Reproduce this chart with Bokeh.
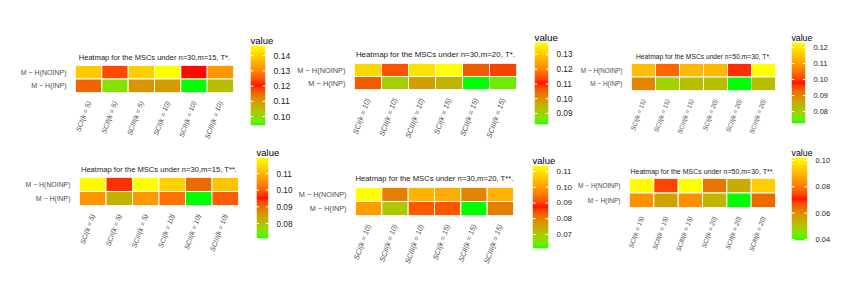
import math
import numpy as np
from bokeh.plotting import figure
from bokeh.models import (FactorRange, Range1d, LinearColorMapper,
                          FixedTicker, NumeralTickFormatter, ColumnDataSource)
from bokeh.transform import linear_cmap
from bokeh.layouts import row, column
from bokeh.embed import file_html
from bokeh.resources import INLINE

# ---------------- data ----------------
rows_y = ["M − H(INP)", "M − H(NOINP)"]

x_k5_10 = ["SCI(k = 5)", "SCII(k = 5)", "SCIII(k = 5)",
           "SCI(k = 10)", "SCII(k = 10)", "SCIII(k = 10)"]
x_k10_15 = ["SCI(k = 10)", "SCII(k = 10)", "SCIII(k = 10)",
            "SCI(k = 15)", "SCII(k = 15)", "SCIII(k = 15)"]
x_k15_20 = ["SCI(k = 15)", "SCII(k = 15)", "SCIII(k = 15)",
            "SCI(k = 20)", "SCII(k = 20)", "SCIII(k = 20)"]

titles = ["Heatmap for the MSCs under n=30,m=15, T*.",
          "Heatmap for the MSCs under n=30,m=20, T*.",
          "Heatmap for the MSCs under n=50,m=30, T*.",
          "Heatmap for the MSCs under n=30,m=15, T**.",
          "Heatmap for the MSCs under n=30,m=20, T**.",
          "Heatmap for the MSCs under n=50,m=30, T**."]

p1_noinp = [0.139, 0.1235, 0.1395, 0.1466, 0.1203, 0.132]
p1_inp = [0.1155, 0.099, 0.1105, 0.1095, 0.0941, 0.1045]
p2_noinp = [0.132, 0.1145, 0.1335, 0.1381, 0.106, 0.108]
p2_inp = [0.106, 0.091, 0.098, 0.0955, 0.0825, 0.0860]
p3_noinp = [0.114, 0.1034, 0.1135, 0.1135, 0.099, 0.1231]
p3_inp = [0.090, 0.080, 0.0826, 0.0826, 0.0725, 0.0826]
p4_noinp = [0.119, 0.0968, 0.1196, 0.1135, 0.0904, 0.1118]
p4_inp = [0.1062, 0.0824, 0.1065, 0.1021, 0.071, 0.0997]
p5_noinp = [0.1138, 0.080, 0.1033, 0.102, 0.0796, 0.103]
p5_inp = [0.100, 0.070, 0.092, 0.0917, 0.0611, 0.080]
p6_noinp = [0.1015, 0.074, 0.1023, 0.063, 0.055, 0.0935]
p6_inp = [0.084, 0.0566, 0.084, 0.0534, 0.0392, 0.0645]

ticks1 = [0.10, 0.11, 0.12, 0.13, 0.14]
ticks2 = [0.09, 0.10, 0.11, 0.12, 0.13]
ticks3 = [0.08, 0.09, 0.10, 0.11, 0.12]
ticks4 = [0.08, 0.09, 0.10, 0.11]
ticks5 = [0.07, 0.08, 0.09, 0.10, 0.11]
ticks6 = [0.04, 0.06, 0.08, 0.10]

# ---------------- palette: green -> red -> yellow, Lab interpolation ----------------
def _to_lin(c):
    c = c / 255.0
    return np.where(c <= 0.04045, c / 12.92, ((c + 0.055) / 1.055) ** 2.4)

def _from_lin(c):
    c = np.where(c <= 0.0031308, 12.92 * c, 1.055 * np.power(np.clip(c, 0, None), 1 / 2.4) - 0.055)
    return np.clip(np.round(c * 255), 0, 255)

M = np.array([[0.4124, 0.3576, 0.1805], [0.2126, 0.7152, 0.0722], [0.0193, 0.1192, 0.9505]])
Minv = np.linalg.inv(M)
WHITE = np.array([0.95047, 1.0, 1.08883])

def rgb2lab(rgb):
    xyz = M @ _to_lin(np.array(rgb, float)) / WHITE
    f = np.where(xyz > 0.008856, np.cbrt(xyz), 7.787 * xyz + 16 / 116)
    return np.array([116 * f[1] - 16, 500 * (f[0] - f[1]), 200 * (f[1] - f[2])])

def lab2rgb(lab):
    fy = (lab[0] + 16) / 116
    fx = fy + lab[1] / 500
    fz = fy - lab[2] / 200
    f = np.array([fx, fy, fz])
    xyz = np.where(f ** 3 > 0.008856, f ** 3, (f - 16 / 116) / 7.787) * WHITE
    return _from_lin(Minv @ xyz)

stops = [rgb2lab((0, 255, 0)), rgb2lab((255, 0, 0)), rgb2lab((255, 255, 0))]
PALETTE = []
N = 256
for i in range(N):
    t = i / (N - 1) * 2
    k = min(int(t), 1)
    f = t - k
    lab = stops[k] * (1 - f) + stops[k + 1] * f
    r, g, b = lab2rgb(lab)
    PALETTE.append("#%02x%02x%02x" % (int(r), int(g), int(b)))

FONT = "Liberation Sans"

def heatmap(title, xlabels, noinp, inp, lo, hi, fw, fh, bl, br, bt, bb,
            title_size, label_size, title_standoff):
    p = figure(x_range=FactorRange(factors=xlabels), y_range=FactorRange(factors=rows_y),
               width=bl + fw + br, height=bt + fh + bb,
               min_border_left=bl, min_border_right=br, min_border_top=bt, min_border_bottom=bb,
               title=title, toolbar_location=None, tools="", output_backend="svg")
    src = ColumnDataSource(dict(x=list(xlabels) * 2,
                                y=[rows_y[1]] * len(xlabels) + [rows_y[0]] * len(xlabels),
                                v=list(noinp) + list(inp)))
    p.rect("x", "y", 1, 1, source=src, fill_color=linear_cmap("v", PALETTE, lo, hi),
           line_color="white", line_width=1)
    p.title.text_font = FONT
    p.title.text_font_size = "%.1fpx" % title_size
    p.title.text_font_style = "normal"
    p.title.text_color = "#1a1a1a"
    p.title.align = "center"
    p.title.standoff = title_standoff
    p.grid.visible = False
    p.outline_line_color = None
    for ax in (p.xaxis[0], p.yaxis[0]):
        ax.axis_line_color = None
        ax.major_tick_line_color = None
        ax.minor_tick_line_color = None
        ax.major_label_text_font = FONT
        ax.major_label_text_font_size = "%.1fpx" % label_size
        ax.major_label_text_color = "#4d4d4d"
        ax.major_label_standoff = 3
    p.xaxis.major_label_orientation = math.radians(70)
    p.xaxis.major_label_text_font_style = "italic"
    return p

def colorbar(ticks, lo, hi, fw, fh, bl, br, bt, bb, value_size, tick_size):
    c = figure(x_range=Range1d(0, 1), y_range=Range1d(lo, hi),
               width=bl + fw + br, height=bt + fh + bb,
               min_border_left=bl, min_border_right=br, min_border_top=bt, min_border_bottom=bb,
               y_axis_location="right", x_axis_location=None, title="value",
               toolbar_location=None, tools="", output_backend="svg")
    arr = np.linspace(lo, hi, 256).reshape(256, 1)
    c.image(image=[arr], x=0, y=lo, dw=1, dh=hi - lo,
            color_mapper=LinearColorMapper(palette=PALETTE, low=lo, high=hi))
    c.segment(x0=[0] * len(ticks), x1=[0.2] * len(ticks), y0=ticks, y1=ticks,
              line_color="white", line_width=1)
    c.segment(x0=[0.8] * len(ticks), x1=[1] * len(ticks), y0=ticks, y1=ticks,
              line_color="white", line_width=1)
    c.grid.visible = False
    c.outline_line_color = None
    c.title.text_font = FONT
    c.title.text_font_size = "%.1fpx" % value_size
    c.title.text_font_style = "normal"
    c.title.text_color = "#000000"
    c.title.align = "left"
    c.title.standoff = 0
    ax = c.yaxis[0]
    ax.ticker = FixedTicker(ticks=ticks)
    ax.formatter = NumeralTickFormatter(format="0.00")
    ax.axis_line_color = None
    ax.major_tick_line_color = None
    ax.minor_tick_line_color = None
    ax.major_label_text_font = FONT
    ax.major_label_text_font_size = "%.1fpx" % tick_size
    ax.major_label_text_color = "#1a1a1a"
    ax.major_label_standoff = 2
    return c

def rng(a, b):
    vals = list(a) + list(b)
    return min(vals), max(vals)

lo1, hi1 = rng(p1_noinp, p1_inp)
lo2, hi2 = rng(p2_noinp, p2_inp)
lo3, hi3 = rng(p3_noinp, p3_inp)
lo4, hi4 = rng(p4_noinp, p4_inp)
lo5, hi5 = rng(p5_noinp, p5_inp)
lo6, hi6 = rng(p6_noinp, p6_inp)

h1 = heatmap(titles[0], x_k5_10, p1_noinp, p1_inp, lo1, hi1, 158, 28, 75, 7, 65, 50, 7.5, 7.0, 7)
c1 = colorbar(ticks1, lo1, hi1, 16, 80, 10, 27, 45, 18, 9.5, 8.7)
h2 = heatmap(titles[1], x_k10_15, p2_noinp, p2_inp, lo2, hi2, 162, 28, 61, 6, 63, 52, 7.9, 7.4, 9)
c2 = colorbar(ticks2, lo2, hi2, 16, 82, 12, 25, 42, 19, 9.8, 8.2)
h3 = heatmap(titles[2], x_k15_20, p3_noinp, p3_inp, lo3, hi3, 144, 27, 56, 6, 63, 53, 6.7, 6.4, 7)
c3 = colorbar(ticks3, lo3, hi3, 14, 81, 10, 35, 42, 20, 8.7, 7.4)

h4 = heatmap(titles[3], x_k5_10, p4_noinp, p4_inp, lo4, hi4, 159, 28, 79, 7, 34, 74, 7.6, 6.9, 7)
c4 = colorbar(ticks4, lo4, hi4, 16, 81, 11, 23, 14, 41, 9.5, 8.2)
h5 = heatmap(titles[4], x_k10_15, p5_noinp, p5_inp, lo5, hi5, 162, 28, 56, 7, 44, 64, 7.7, 7.3, 10)
c5 = colorbar(ticks5, lo5, hi5, 16, 83, 12, 27, 22, 31, 9.5, 8.0)
h6 = heatmap(titles[5], x_k15_20, p6_noinp, p6_inp, lo6, hi6, 146, 29, 54, 6, 35, 72, 7.0, 6.5, 7)
c6 = colorbar(ticks6, lo6, hi6, 16, 83, 10, 33, 14, 39, 8.8, 7.5)

# wrap every figure in its own container so that the frames are not aligned to each other
def box(f):
    return column(f)

layout = column(row(*[box(f) for f in (h1, c1, h2, c2, h3, c3)]),
                row(*[box(f) for f in (h4, c4, h5, c5, h6, c6)]))

open("out.html", "w").write(file_html(layout, INLINE))
